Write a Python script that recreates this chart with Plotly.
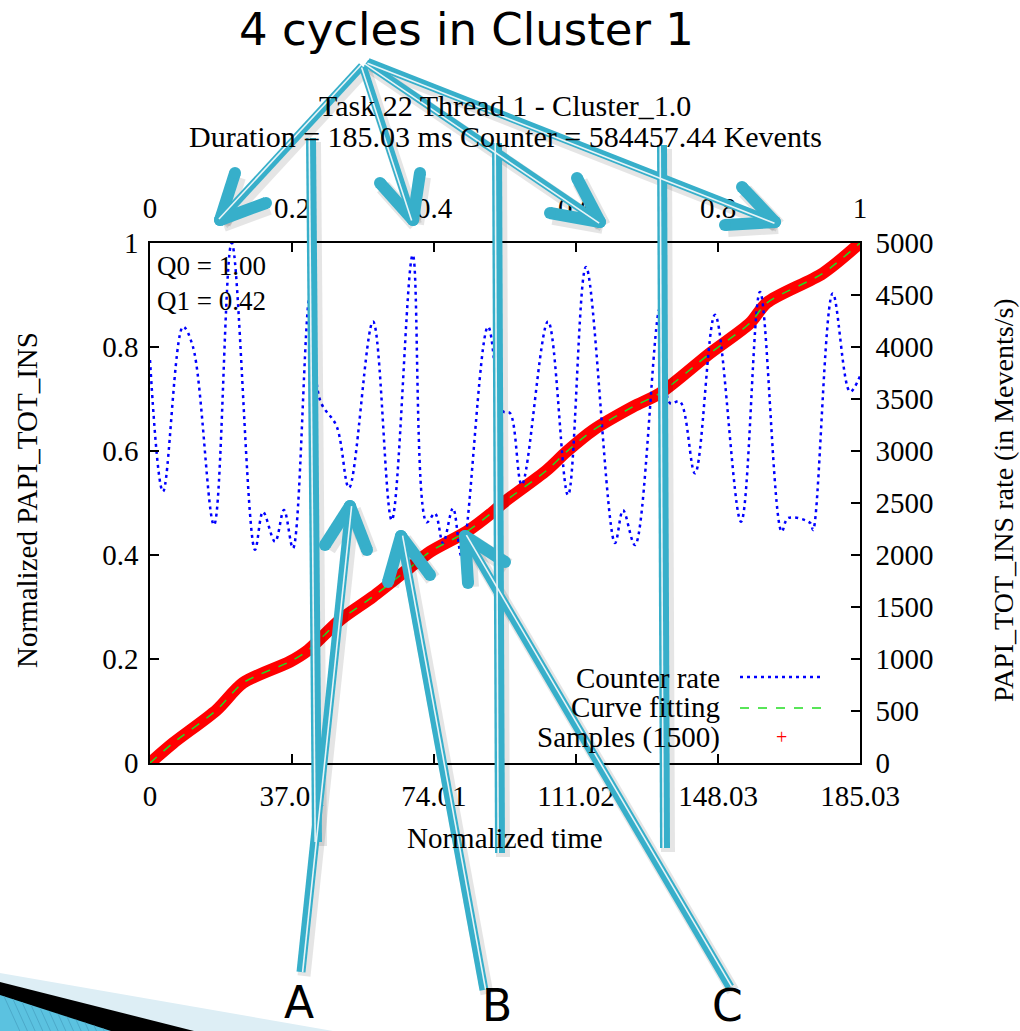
import math
import plotly.graph_objects as go

# ---------------- data ----------------
DURATION_MS = 185.03

# counter rate (Mevents/s) over time (ms)
rate_time_ms = [0.0, 3.39, 8.60, 11.21, 16.68, 21.29, 27.36, 29.45, 32.58, 34.92,
                37.27, 41.70, 44.31, 48.66, 51.86, 58.12, 62.99, 68.46, 72.11, 74.27,
                76.36, 78.96, 81.23, 88.09, 92.00, 93.82, 96.87, 103.72, 108.93, 113.62,
                121.18, 123.27, 126.40, 132.91, 135.52, 138.12, 142.03, 147.24, 154.02, 158.97,
                164.63, 166.27, 172.00, 172.79, 177.92, 182.43, 185.03]
rate_mevents = [3875, 2610, 4195, 4000, 2290, 5000, 2050, 2415, 2128, 2433,
                2065, 4500, 3490, 3235, 2645, 4245, 2335, 4885, 2315, 2400,
                2115, 2450, 1985, 4195, 3380, 3365, 2675, 4245, 2575, 4770,
                2115, 2430, 2095, 4375, 3460, 3475, 2785, 4310, 2320, 4530,
                2225, 2355, 2310, 2240, 4515, 3570, 3720]

# normalized accumulated counter samples
sample_time_ms = [0.0, 5.99, 17.38, 24.24, 36.49, 41.18, 49.52, 58.12, 66.90, 72.97,
                  82.54, 89.39, 92.00, 103.39, 108.60, 115.45, 125.87, 132.91, 145.94,
                  156.37, 160.72, 175.39, 185.03]
sample_norm = [0.0, 0.038, 0.102, 0.154, 0.195, 0.217, 0.275, 0.32, 0.371, 0.406,
               0.445, 0.483, 0.50, 0.563, 0.599, 0.64, 0.685, 0.711, 0.788,
               0.846, 0.885, 0.942, 1.0]

# fitted curve (normalized time on the top axis)
fit_time_norm = [0.0, 0.032, 0.094, 0.131, 0.197, 0.223, 0.268, 0.314, 0.362, 0.394,
                 0.446, 0.483, 0.497, 0.559, 0.587, 0.624, 0.680, 0.718, 0.789,
                 0.845, 0.869, 0.948, 1.0]
fit_norm = [0.0, 0.038, 0.102, 0.154, 0.195, 0.217, 0.275, 0.32, 0.371, 0.406,
            0.445, 0.483, 0.50, 0.563, 0.599, 0.64, 0.685, 0.711, 0.788,
            0.846, 0.885, 0.942, 1.0]

bottom_tick_vals = [0, 37.01, 74.01, 111.02, 148.03, 185.03]
bottom_tick_text = ["0", "37.01", "74.01", "111.02", "148.03", "185.03"]
top_tick_vals = [0, 0.2, 0.4, 0.6, 0.8, 1.0]
top_tick_text = ["0", "0.2", "0.4", "0.6", "0.8", "1"]
left_tick_vals = [0, 0.2, 0.4, 0.6, 0.8, 1.0]
left_tick_text = ["0", "0.2", "0.4", "0.6", "0.8", "1"]
right_tick_vals = [0, 500, 1000, 1500, 2000, 2500, 3000, 3500, 4000, 4500, 5000]

# ---------------- geometry helpers ----------------
W, H = 1020, 1031
PL, PR, PT, PB = 150, 860, 243, 763
PW, PH = PR - PL, PB - PT

SERIF = "Liberation Serif"
SANS = "DejaVu Sans"
CYAN = "#37AFCA"
DOTS = "3px,4px"


def px(x):
    return (x - PL) / PW


def py(y):
    return (PB - y) / PH


shadow_shapes, body_shapes, hi_shapes = [], [], []


def seg(x0, y0, x1, y1, color, width, dash=None):
    line = dict(color=color, width=width)
    if dash:
        line["dash"] = dash
    return dict(type="line", xref="paper", yref="paper",
                x0=px(x0), y0=py(y0), x1=px(x1), y1=py(y1),
                line=line, layer="above")


def disc(cx, cy, r, color):
    return dict(type="circle", xref="paper", yref="paper",
                x0=px(cx - r), x1=px(cx + r), y0=py(cy + r), y1=py(cy - r),
                fillcolor=color, line=dict(width=0), layer="above")


def stroke(x0, y0, x1, y1, w, highlight=True, caps=False):
    shadow_shapes.append(seg(x0 + 3, y0 + 4, x1 + 3, y1 + 4, "rgba(0,0,0,0.10)", w + 4))
    body_shapes.append(seg(x0, y0, x1, y1, CYAN, w))
    if caps:
        body_shapes.append(disc(x0, y0, w / 2, CYAN))
        body_shapes.append(disc(x1, y1, w / 2, CYAN))
    if highlight:
        dx, dy = x1 - x0, y1 - y0
        L = math.hypot(dx, dy)
        nx, ny = -dy / L, dx / L
        o = w * 0.18
        hi_shapes.append(seg(x0 + nx * o, y0 + ny * o, x1 + nx * o, y1 + ny * o,
                             "#E8F4F7", 1.6))


def arrow(x0, y0, tip, arm1, arm2, w=8, head=12):
    stroke(x0, y0, tip[0], tip[1], w)
    for arm in (arm1, arm2):
        stroke(tip[0], tip[1], arm[0], arm[1], head, highlight=False, caps=True)


# vertical marker lines
stroke(311, 138, 317, 842, 10)
stroke(497, 143, 500, 853, 10)
stroke(662, 145, 665, 848, 10)

# arrows from the heading to the four cycles
arrow(362, 66, (220, 220), (235, 173), (266, 203))
arrow(363, 67, (413, 220), (380, 183), (420, 173))
arrow(366, 63, (600, 222), (550, 213), (577, 178))
arrow(368, 62, (775, 222), (725, 225), (742, 187))

# arrows from the labels A, B, C
arrow(301, 972, (350, 506), (325, 545), (367, 550), w=9)
arrow(484, 990, (401, 536), (388, 582), (430, 575), w=9)
arrow(730, 987, (465, 536), (468, 583), (505, 562), w=9)

# corner decoration
deco = []


def poly(points, color):
    d = "M " + " L ".join(f"{px(x):.5f},{py(y):.5f}" for x, y in points) + " Z"
    return dict(type="path", xref="paper", yref="paper", path=d,
                fillcolor=color, line=dict(width=0), layer="above")


deco.append(poly([(0, 973), (333, 1031), (0, 1031)], "#DDEEF5"))
deco.append(poly([(0, 982), (194, 1031), (0, 1031)], "#000000"))
deco.append(poly([(0, 995), (111, 1031), (0, 1031)], "#5BC2E0"))
for xs in range(4, 110, 9):
    ys = 995 + 36 / 111 * xs
    xe = xs + (1031 - ys) / 2.2
    deco.append(seg(xs, ys, xe, 1031, "#4CA9C9", 1))

# legend samples
legend_shapes = [
    seg(740, 677, 820, 677, "#0000FF", 2.5, DOTS),
    seg(740, 708, 823, 708, "#22DD22", 1.5, "dash"),
]

# ---------------- traces ----------------
fig = go.Figure()
fig.add_trace(go.Scatter(
    x=sample_time_ms, y=sample_norm, mode="lines",
    line=dict(color="#FF0000", width=12, shape="spline", smoothing=0.8),
    xaxis="x", yaxis="y", hoverinfo="skip"))
fig.add_trace(go.Scatter(
    x=fit_time_norm, y=fit_norm, mode="lines",
    line=dict(color="#22DD22", width=1.5, dash="dash", shape="spline", smoothing=0.8),
    xaxis="x2", yaxis="y", hoverinfo="skip"))
fig.add_trace(go.Scatter(
    x=rate_time_ms, y=rate_mevents, mode="lines",
    line=dict(color="#0000FF", width=2.5, dash=DOTS, shape="spline", smoothing=1.0),
    xaxis="x", yaxis="y2", hoverinfo="skip"))

axis_style = dict(
    showline=True, linecolor="black", linewidth=1.5,
    ticks="inside", ticklen=9, tickwidth=1.5, tickcolor="black",
    showgrid=False, zeroline=False,
    tickfont=dict(family=SERIF, size=29, color="black"),
)

fig.update_layout(
    width=W, height=H,
    margin=dict(l=PL, r=W - PR, t=PT, b=H - PB, pad=0),
    paper_bgcolor="white", plot_bgcolor="white",
    showlegend=False,
    xaxis=dict(range=[0, DURATION_MS], tickvals=bottom_tick_vals,
               ticktext=bottom_tick_text, ticklabelstandoff=6, **axis_style),
    xaxis2=dict(range=[0, 1], overlaying="x", side="top", anchor="y",
                tickvals=top_tick_vals, ticktext=top_tick_text,
                ticklabelstandoff=12, **axis_style),
    yaxis=dict(range=[0, 1], tickvals=left_tick_vals, ticktext=left_tick_text,
               ticklabelstandoff=4, **axis_style),
    yaxis2=dict(range=[0, 5000], overlaying="y", side="right", anchor="x",
                tickvals=right_tick_vals, ticklabelstandoff=8, **axis_style),
    shapes=legend_shapes + deco + shadow_shapes + body_shapes + hi_shapes,
)


def label(text, x, y, size=29, family=SERIF, xanchor="center", color="black",
          textangle=0, align="center"):
    fig.add_annotation(text=text, x=px(x), y=py(y), xref="paper", yref="paper",
                       showarrow=False, xanchor=xanchor, yanchor="middle",
                       textangle=textangle, align=align, borderpad=0,
                       font=dict(family=family, size=size, color=color))


label("4 cycles in Cluster 1", 466, 30, size=45, family=SANS)
label("Task 22 Thread 1 - Cluster_1.0", 505, 105, size=30)
label("Duration = 185.03 ms Counter = 584457.44 Kevents", 505, 136, size=30)
label("Q0 = 1.00<br>Q1 = 0.42", 156, 283, size=27, xanchor="left", align="left")
label("Normalized PAPI_TOT_INS", 27, 500, size=29, textangle=-90)
label("PAPI_TOT_INS rate (in Mevents/s)", 1003, 500, size=28, textangle=-90)
label("Normalized time", 505, 838, size=29)
label("Counter rate", 721, 678, size=29, xanchor="right")
label("Curve fitting", 721, 707, size=29, xanchor="right")
label("Samples (1500)", 721, 737, size=29, xanchor="right")
label("+", 781, 737, size=20, color="#FF0000")
label("A", 299, 1002, size=44, family=SANS)
label("B", 497, 1005, size=44, family=SANS)
label("C", 727, 1005, size=44, family=SANS)

fig.write_html("out.html")
